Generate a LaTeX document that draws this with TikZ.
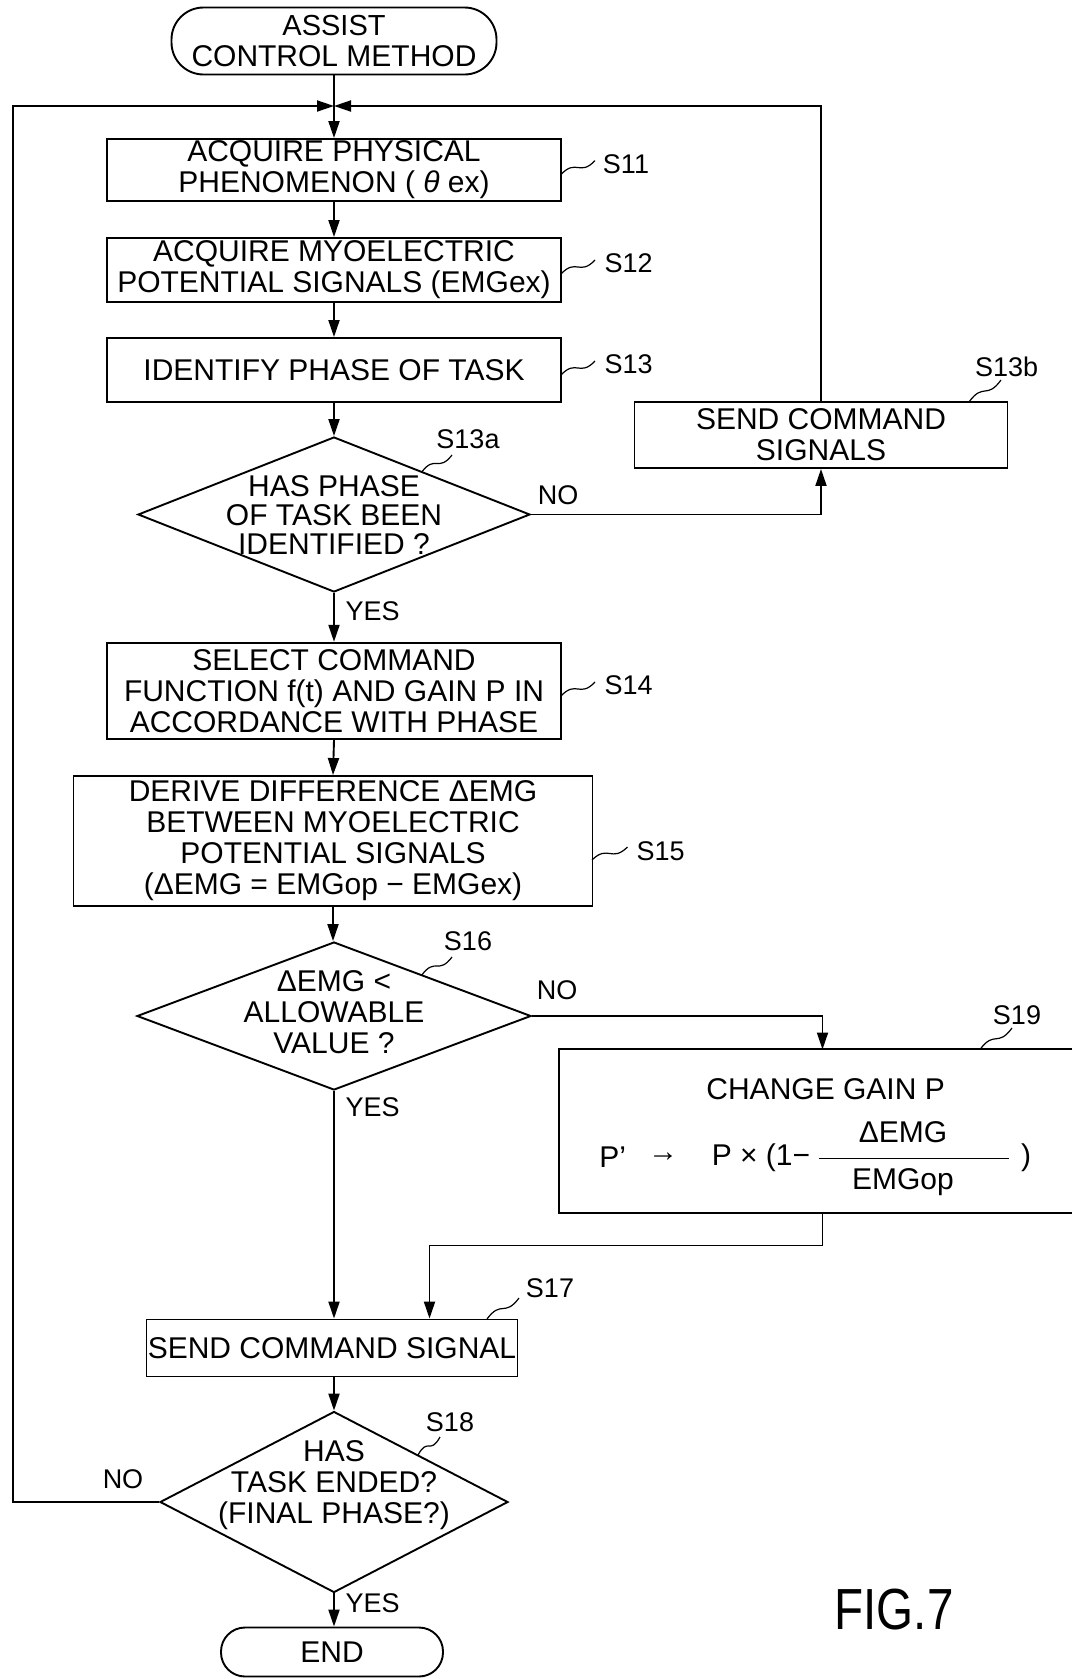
\documentclass[tikz,border=0pt]{standalone}
\usepackage{fontspec}
\setmainfont{Liberation Sans}
\usetikzlibrary{arrows.meta,shapes.geometric,calc}
\newcommand\squig[2]{\draw[sq] (#1) .. controls ($(#1)!0.45!(#2)+(0,-10)$) and ($(#1)!0.55!(#2)+(0,10)$) .. (#2);}
\begin{document}
\begin{tikzpicture}[x=1pt,y=-1pt,
  every node/.style={font=\fontsize{30}{31}\selectfont, inner sep=0pt},
  box/.style={draw, line width=1.9pt, align=center},
  term/.style={draw, line width=1.9pt, align=center},
  dia/.style={draw, diamond, line width=1.9pt},
  lbl/.style={font=\fontsize{27}{27}\selectfont},
  ln/.style={line width=1.9pt},
  arr/.style={line width=1.9pt, -{Triangle[length=17pt,width=11pt]}},
  sq/.style={line width=1.2pt}
]
\useasboundingbox (0,0) rectangle (1072,1679);

% nodes
\node[term, rounded corners=32pt, minimum width=325pt, minimum height=67pt] (start) at (334,41) {\fontsize{29}{28}\selectfont ASSIST\\CONTROL METHOD};
\node[box, minimum width=454pt, minimum height=62pt] (s11) at (334,170) {ACQUIRE PHYSICAL\\PHENOMENON ( \textit{θ} ex)};
\node[box, minimum width=454pt, minimum height=64pt] (s12) at (334,270) {ACQUIRE MYOELECTRIC\\POTENTIAL SIGNALS (EMGex)};
\node[box, minimum width=454pt, minimum height=64pt] (s13) at (334,370) {IDENTIFY PHASE OF TASK};
\node[dia, minimum width=392pt, minimum height=155pt] (s13a) at (334,514.5) {};
\node[align=center] (s13at) at (334,515) {HAS PHASE\\[-2pt]OF TASK BEEN\\[-2pt]IDENTIFIED ?};
\node[box, minimum width=373pt, minimum height=66pt] (s13b) at (821,435) {SEND COMMAND\\SIGNALS};
\node[box, minimum width=454pt, minimum height=96.5pt] (s14) at (334,691) {SELECT COMMAND\\FUNCTION f(t) AND GAIN P IN\\ACCORDANCE WITH PHASE};
\node[box, minimum width=519pt, minimum height=130pt] (s15) at (333,841) {DERIVE DIFFERENCE ΔEMG\\BETWEEN MYOELECTRIC\\POTENTIAL SIGNALS\\(ΔEMG = EMGop − EMGex)};
\node[dia, minimum width=394pt, minimum height=148pt] (s16) at (334,1016) {};
\node[align=center] (s16t) at (334,1012) {ΔEMG <\\ALLOWABLE\\VALUE ?};
\node[minimum width=513pt, minimum height=163.5pt] (s19) at (815.5,1131) {};
\draw[ln] (s19.north east) -- (s19.north west) -- (s19.south west) -- (s19.south east);
\node (cg) at (825.6,1089) {CHANGE GAIN P};
\node (pp) at (612.6,1157.6) {P'};
\node (parr) at (663,1157.6) {→};
\node (px) at (761,1157.6) {P × (1−};
\coordinate (fbl) at (819,1158.7);
\coordinate (fbr) at (1009,1158.7);
\draw[line width=1.4pt] (fbl) -- (fbr);
\node (num) at (903,1132) {ΔEMG};
\node (den) at (903,1182) {EMGop};
\node (prc) at (1026,1157.6) {)};
\node[box, minimum width=371pt, minimum height=57pt] (s17) at (332,1348) {SEND COMMAND SIGNAL};
\node[dia, minimum width=348pt, minimum height=181pt] (s18) at (334,1502) {};
\node[align=center] (s18t) at (334,1485) {HAS\\TASK ENDED?\\(FINAL PHASE?)};
\node[term, rounded corners=24pt, minimum width=222pt, minimum height=49pt] (end) at (332,1652) {END};
\node (fig) at (894,1610) {\fontsize{58}{58}\selectfont\scalebox{0.82}[1]{FIG.7}};

% step labels
\node[lbl] (l11) at (626,164) {S11};
\node[lbl] (l12) at (628.6,263.5) {S12};
\node[lbl] (l13) at (628.6,364) {S13};
\node[lbl] (l13a) at (468,439) {S13a};
\node[lbl] (l13b) at (1006.6,367) {S13b};
\node[lbl] (l14) at (628.6,685) {S14};
\node[lbl] (l15) at (660.7,851) {S15};
\node[lbl] (l16) at (468,941) {S16};
\node[lbl] (l19) at (1017,1015) {S19};
\node[lbl] (l17) at (550,1288) {S17};
\node[lbl] (l18) at (450,1422) {S18};

% yes/no
\node[lbl] (no1) at (558,495) {NO};
\node[lbl] (yes1) at (372.7,611.5) {YES};
\node[lbl] (no2) at (557,990.6) {NO};
\node[lbl] (yes2) at (372.7,1107) {YES};
\node[lbl] (no3) at (123,1479) {NO};
\node[lbl] (yes3) at (372.7,1603) {YES};

% squiggles
\squig{561,174.5}{595,160.6}
\squig{561,274}{595,260}
\squig{561,375}{595,361}
\squig{561,696}{595,682}
\squig{592,860}{627.5,847}
\squig{487,1319}{519,1298}
\squig{969,402}{1001,380}
\squig{980,1049.5}{1012,1028}
\squig{421.8,471.9}{452,455}
\squig{421.8,975}{452,957}
\squig{418,1455}{440,1437}

% connectors
\coordinate (J) at (334,106);
\coordinate (L) at (13,1502);
\coordinate (c19t) at (822.5,1049.5);
\coordinate (c19b) at (822.5,1213);
\coordinate (m2) at (429.5,1245.5);
\draw[arr] (start.south) -- (s11.north);
\draw[arr] (s18.west) -- (L) |- (J);
\draw[arr] (s13b.north) |- (J);
\draw[arr] (s11.south) -- (s12.north);
\draw[arr] (s12.south) -- (s13.north);
\draw[arr] (s13.south) -- (s13a.north);
\draw[arr] (s13a.east) -| (s13b.south);
\draw[arr] (s13a.south) -- (s14.north);
\draw[arr] (s14.south) -- (s15.north);
\draw[arr] (s15.south) -- (s15.south |- s16.north);
\draw[arr] (s16.east) -| (c19t);
\draw[arr] (s16.south) -- (s16.south |- s17.north);
\draw[arr] (c19b) |- (m2) -- (m2 |- s17.north);
\draw[arr] (s17.south -| s18.north) -- (s18.north);
\draw[arr] (s18.south) -- (s18.south |- end.north);
\end{tikzpicture}
\end{document}
